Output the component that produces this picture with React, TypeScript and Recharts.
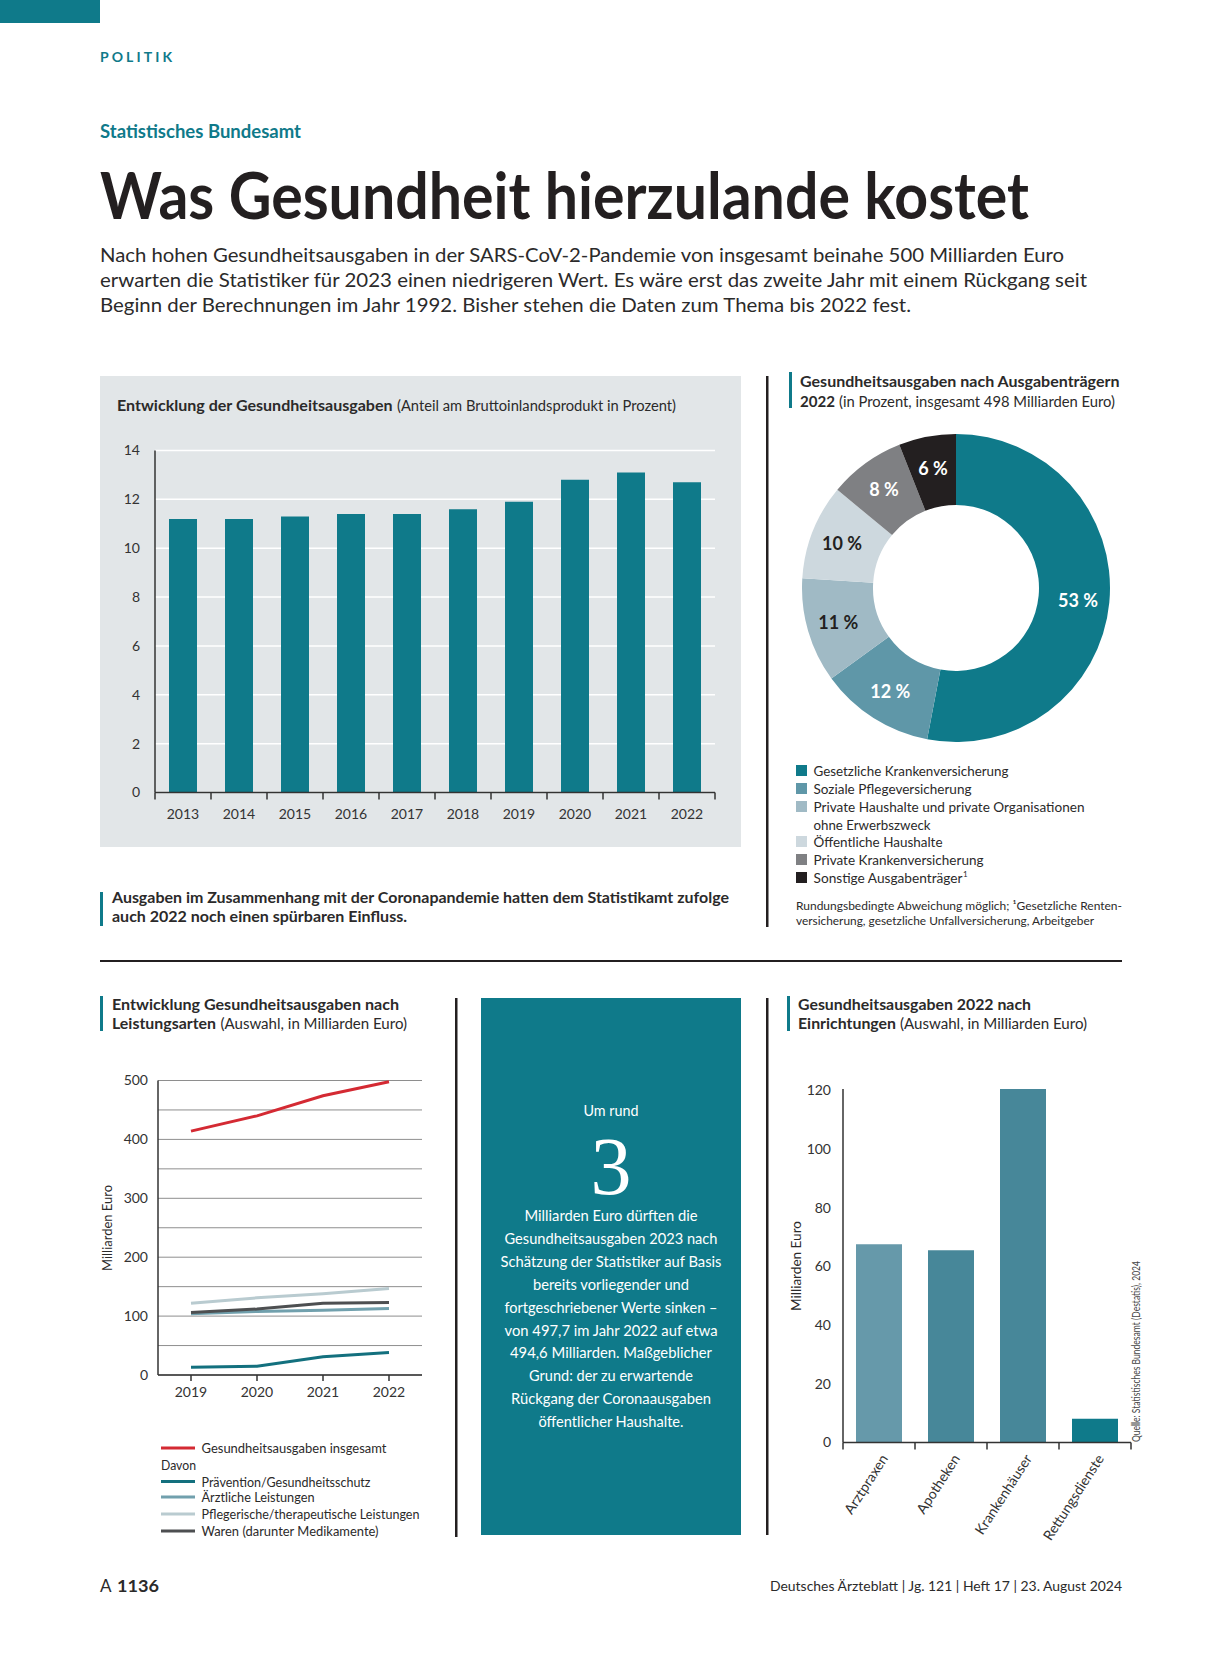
import React from 'react';
import { BarChart, Bar, XAxis, YAxis, CartesianGrid, PieChart, Pie, Cell, LineChart, Line } from 'recharts';

const FONT = 'Lato, "Open Sans", sans-serif';
const SERIF = '"Liberation Serif", "DejaVu Serif", serif';
const TEAL = '#0f7a8a';
const INK = '#231f20';
const TXT = '#2b2a2a';

// Chart 1: share of GDP
const gdpYears = ['2013', '2014', '2015', '2016', '2017', '2018', '2019', '2020', '2021', '2022'];
const gdpShare = [11.2, 11.2, 11.3, 11.4, 11.4, 11.6, 11.9, 12.8, 13.1, 12.7];
const gdpTicks = [0, 2, 4, 6, 8, 10, 12, 14];

// Chart 2: payers
const payerNames = [
  'Gesetzliche Krankenversicherung',
  'Soziale Pflegeversicherung',
  'Private Haushalte und private Organisationen ohne Erwerbszweck',
  'Öffentliche Haushalte',
  'Private Krankenversicherung',
  'Sonstige Ausgabenträger',
];
const payerShares = [53, 12, 11, 10, 8, 6];
const payerColors = ['#0f7a8a', '#5f97a8', '#a0bac5', '#cdd8de', '#7f8083', '#231f20'];
const payerLabelColors = ['#ffffff', '#ffffff', '#231f20', '#231f20', '#ffffff', '#ffffff'];

// Chart 3: by type of service
const serviceYears = ['2019', '2020', '2021', '2022'];
const totalSpend = [414, 440, 474, 498];
const preventionSpend = [13, 15, 31, 38];
const medicalSpend = [104, 108, 110, 113];
const nursingSpend = [122, 131, 138, 147];
const goodsSpend = [106, 112, 122, 123];
const serviceTicks = [0, 50, 100, 150, 200, 250, 300, 350, 400, 450, 500];

// Chart 4: by facility
const facilityNames = ['Arztpraxen', 'Apotheken', 'Krankenhäuser', 'Rettungsdienste'];
const facilitySpend = [67.5, 65.5, 120.4, 8.1];
const facilityColors = ['#6699aa', '#478799', '#478799', '#0f7a8a'];
const facilityTicks = [0, 20, 40, 60, 80, 100, 120];

const gdpData = gdpYears.map((y, i) => ({ year: y, share: gdpShare[i] }));
const payerData = payerNames.map((n, i) => ({ name: n, value: payerShares[i] }));
const serviceData = serviceYears.map((y, i) => ({
  year: y,
  total: totalSpend[i],
  prevention: preventionSpend[i],
  medical: medicalSpend[i],
  nursing: nursingSpend[i],
  goods: goodsSpend[i],
}));
const facilityData = facilityNames.map((n, i) => ({ name: n, value: facilitySpend[i] }));

const tickStyle = { fill: '#333', fontSize: 14, fontFamily: FONT };
const axisStyle = { stroke: '#333', strokeWidth: 1.5 };

function boundaryTick(p: any, opts: { n: number; half: number; rotate?: number; dy: number; dx?: number }) {
  const { x, y, payload, index } = p;
  const off = payload && typeof payload.offset === 'number' && payload.offset > 0 ? payload.offset : opts.half;
  const label = payload ? payload.value : '';
  const tx = x + (opts.dx || 0);
  const ty = y + opts.dy;
  return (
    <g>
      <line x1={x - off} x2={x - off} y1={y} y2={y + 7} stroke="#333" strokeWidth={1.5} />
      {index === opts.n - 1 ? <line x1={x + off} x2={x + off} y1={y} y2={y + 7} stroke="#333" strokeWidth={1.5} /> : null}
      {opts.rotate ? (
        <text x={tx} y={ty} textAnchor="end" dominantBaseline="central" fill="#333" fontSize={14} fontFamily={FONT}
          transform={`rotate(${opts.rotate} ${tx} ${ty})`}>{label}</text>
      ) : (
        <text x={tx} y={ty} textAnchor="middle" fill="#333" fontSize={14} fontFamily={FONT}>{label}</text>
      )}
    </g>
  );
}

const RAD = Math.PI / 180;
function renderPieLabel(p: any) {
  const { cx, cy, midAngle, innerRadius, outerRadius, index, value } = p;
  const r = (innerRadius + outerRadius) / 2 + 4;
  const x = cx + r * Math.cos(-midAngle * RAD);
  const y = cy + r * Math.sin(-midAngle * RAD);
  return (
    <text x={x} y={y} textAnchor="middle" dominantBaseline="central" fill={payerLabelColors[index]}
      fontSize={18} fontWeight={700} fontFamily={FONT}>{`${value} %`}</text>
  );
}

type TP = {
  x: number; y: number; s: number; w?: number; b?: boolean; c?: string;
  a?: 'start' | 'middle' | 'end'; rot?: number; fam?: string; adj?: 'spacing' | 'spacingAndGlyphs'; children: React.ReactNode;
};
const T = ({ x, y, s, w, b, c = TXT, a = 'start', rot, fam = FONT, adj = 'spacingAndGlyphs', children }: TP) => (
  <text x={x} y={y} fontSize={s} fontWeight={b ? 700 : 400} fill={c} textAnchor={a} fontFamily={fam}
    {...(w ? { textLength: w, lengthAdjust: adj } : {})}
    transform={rot ? `rotate(${rot} ${x} ${y})` : undefined}>{children}</text>
);

const legendRows = [
  { t: 'Gesetzliche Krankenversicherung', w: 195, sq: 0 },
  { t: 'Soziale Pflegeversicherung', w: 158, sq: 1 },
  { t: 'Private Haushalte und private Organisationen', w: 271, sq: 2 },
  { t: 'ohne Erwerbszweck', w: 117, sq: -1 },
  { t: 'Öffentliche Haushalte', w: 129, sq: 3 },
  { t: 'Private Krankenversicherung', w: 170, sq: 4 },
  { t: 'Sonstige Ausgabenträger', w: 149, sq: 5 },
];
const legendBase = [776, 794, 812, 830, 847, 865, 883];

const lineLegend = [
  { t: 'Gesundheitsausgaben insgesamt', w: 185, c: '#d42a33' },
  { t: 'Davon', w: 35, c: '' },
  { t: 'Prävention/Gesundheitsschutz', w: 169, c: '#13707e' },
  { t: 'Ärztliche Leistungen', w: 113, c: '#71a0ad' },
  { t: 'Pflegerische/therapeutische Leistungen', w: 218, c: '#b9cbd0' },
  { t: 'Waren (darunter Medikamente)', w: 177, c: '#4d4f51' },
];
const lineLegendBase = [1453, 1469.5, 1486.5, 1502, 1519, 1536];

const boxLines = [
  { t: 'Milliarden Euro dürften die', w: 173 },
  { t: 'Gesundheitsausgaben 2023 nach', w: 213 },
  { t: 'Schätzung der Statistiker auf Basis', w: 221 },
  { t: 'bereits vorliegender und', w: 156 },
  { t: 'fortgeschriebener Werte sinken –', w: 213 },
  { t: 'von 497,7 im Jahr 2022 auf etwa', w: 213 },
  { t: '494,6 Milliarden. Maßgeblicher', w: 202 },
  { t: 'Grund: der zu erwartende', w: 164 },
  { t: 'Rückgang der Coronaausgaben', w: 200 },
  { t: 'öffentlicher Haushalte.', w: 145 },
];

export default function App() {
  return (
    <div style={{ position: 'absolute', left: 0, top: 0, width: 1223, height: 1654, background: '#fff', overflow: 'hidden' }}>
      <svg style={{ position: 'absolute', left: 0, top: 0 }} width={1223} height={1654}>
        <rect x={0} y={0} width={100} height={23} fill={TEAL} />
        <rect x={100} y={376} width={641} height={471} fill="#e2e6e8" />
        <rect x={481} y={998} width={260} height={537} fill={TEAL} />
        <rect x={766} y={376} width={2.5} height={551} fill={INK} />
        <rect x={100} y={960} width={1022} height={2} fill={INK} />
        <rect x={455} y={998} width={2.5} height={539} fill={INK} />
        <rect x={766} y={998} width={2.5} height={537} fill={INK} />
        <rect x={100} y={892} width={3} height={34} fill={TEAL} />
        <rect x={789} y={372} width={3} height={36} fill={TEAL} />
        <rect x={100} y={996} width={3} height={35} fill={TEAL} />
        <rect x={787} y={996} width={3} height={35} fill={TEAL} />
      </svg>

      <div style={{ position: 'absolute', left: 100, top: 376 }}>
        <BarChart width={641} height={471} data={gdpData} margin={{ top: 74.5, right: 26, bottom: 24.5, left: 0 }} barSize={28}>
          <CartesianGrid horizontal vertical={false} stroke="#ffffff" strokeWidth={1.5} />
          <XAxis dataKey="year" tickLine={false} tickSize={0} tickMargin={0} axisLine={axisStyle} height={30} interval={0}
            tick={(p: any) => boundaryTick(p, { n: 10, half: 28, dy: 26 })} />
          <YAxis domain={[0, 14]} ticks={gdpTicks} tickLine={false} tickSize={0} tickMargin={15} width={55}
            axisLine={axisStyle} tick={tickStyle} />
          <Bar dataKey="share" fill={TEAL} isAnimationActive={false} />
        </BarChart>
      </div>

      <div style={{ position: 'absolute', left: 800, top: 432 }}>
        <PieChart width={312} height={312} margin={{ top: 0, right: 0, bottom: 0, left: 0 }}>
          <Pie data={payerData} dataKey="value" nameKey="name" cx={156} cy={156} innerRadius={83} outerRadius={154}
            startAngle={90} endAngle={-270} stroke="none" isAnimationActive={false} labelLine={false} label={renderPieLabel}>
            {payerColors.map((c, i) => <Cell key={i} fill={c} stroke="none" />)}
          </Pie>
        </PieChart>
      </div>

      <div style={{ position: 'absolute', left: 100, top: 1040 }}>
        <LineChart width={340} height={380} data={serviceData} margin={{ top: 40.5, right: 18, bottom: 15, left: 0 }}>
          <CartesianGrid horizontal vertical={false} stroke="#8e8e8e" strokeWidth={1} />
          <XAxis dataKey="year" padding={{ left: 33, right: 33 }} tickLine={{ stroke: '#333', strokeWidth: 1.5 }} tickSize={6}
            tickMargin={6} axisLine={axisStyle} height={30} interval={0} tick={tickStyle} />
          <YAxis domain={[0, 500]} ticks={serviceTicks} tickFormatter={(v: number) => (v % 100 === 0 ? String(v) : '')}
            tickLine={false} tickSize={0} tickMargin={10} width={58} axisLine={axisStyle} tick={tickStyle} />
          <Line dataKey="nursing" stroke="#b9cbd0" strokeWidth={3} dot={false} isAnimationActive={false} />
          <Line dataKey="medical" stroke="#71a0ad" strokeWidth={3} dot={false} isAnimationActive={false} />
          <Line dataKey="goods" stroke="#4d4f51" strokeWidth={3} dot={false} isAnimationActive={false} />
          <Line dataKey="prevention" stroke="#13707e" strokeWidth={3} dot={false} isAnimationActive={false} />
          <Line dataKey="total" stroke="#d42a33" strokeWidth={3} dot={false} isAnimationActive={false} />
        </LineChart>
      </div>

      <div style={{ position: 'absolute', left: 780, top: 1050 }}>
        <BarChart width={380} height={500} data={facilityData} margin={{ top: 39, right: 29, bottom: 27.5, left: 0 }} barSize={46}>
          <XAxis dataKey="name" tickLine={false} tickSize={0} tickMargin={0} axisLine={axisStyle} height={80} interval={0}
            tick={(p: any) => boundaryTick(p, { n: 4, half: 36, dy: 13, dx: 5, rotate: -57 })} />
          <YAxis domain={[0, 120]} ticks={facilityTicks} tickLine={false} tickSize={0} tickMargin={12} width={63}
            axisLine={axisStyle} tick={tickStyle} />
          <Bar dataKey="value" isAnimationActive={false}>
            {facilityColors.map((c, i) => <Cell key={i} fill={c} />)}
          </Bar>
        </BarChart>
      </div>

      <svg style={{ position: 'absolute', left: 0, top: 0, pointerEvents: 'none' }} width={1223} height={1654}>
        <T x={100} y={62} s={14} b c={TEAL} w={72} adj="spacing">POLITIK</T>
        <T x={100} y={138} s={19} b c={TEAL} w={201}>Statistisches Bundesamt</T>
        <T x={100} y={218.5} s={65} b c={INK} w={929}>Was Gesundheit hierzulande kostet</T>
        <T x={100} y={262} s={20} w={964}>Nach hohen Gesundheitsausgaben in der SARS-CoV-2-Pandemie von insgesamt beinahe 500 Milliarden Euro</T>
        <T x={100} y={287} s={20} w={987}>erwarten die Statistiker für 2023 einen niedrigeren Wert. Es wäre erst das zweite Jahr mit einem Rückgang seit</T>
        <T x={100} y={312} s={20} w={811}>Beginn der Berechnungen im Jahr 1992. Bisher stehen die Daten zum Thema bis 2022 fest.</T>

        <T x={117} y={410.5} s={15.5} b w={275.5}>Entwicklung der Gesundheitsausgaben</T>
        <T x={397} y={410.5} s={15.5} w={279}>(Anteil am Bruttoinlandsprodukt in Prozent)</T>

        <T x={112} y={903} s={16} b w={617}>Ausgaben im Zusammenhang mit der Coronapandemie hatten dem Statistikamt zufolge</T>
        <T x={112} y={922} s={16} b w={295}>auch 2022 noch einen spürbaren Einfluss.</T>

        <T x={800} y={387} s={15.5} b w={319.5}>Gesundheitsausgaben nach Ausgabenträgern</T>
        <T x={800} y={407} s={15.5} b w={35}>2022</T>
        <T x={839} y={407} s={15.5} w={276}>(in Prozent, insgesamt 498 Milliarden Euro)</T>

        {legendRows.map((r, i) => (
          <g key={i}>
            {r.sq >= 0 ? <rect x={796} y={legendBase[i] - 11} width={11} height={11} fill={payerColors[r.sq]} /> : null}
            <T x={813.5} y={legendBase[i]} s={14} w={r.w}>{r.t}</T>
          </g>
        ))}
        <T x={963} y={877} s={8}>1</T>
        <T x={796} y={909.5} s={12} w={326}>Rundungsbedingte Abweichung möglich; ¹Gesetzliche Renten-</T>
        <T x={796} y={925} s={12} w={298}>versicherung, gesetzliche Unfallversicherung, Arbeitgeber</T>

        <T x={112} y={1010} s={15.5} b w={287}>Entwicklung Gesundheitsausgaben nach</T>
        <T x={112} y={1029} s={15.5} b w={104}>Leistungsarten</T>
        <T x={220.5} y={1029} s={15.5} w={186.5}>(Auswahl, in Milliarden Euro)</T>
        <T x={112} y={1228} s={14} a="middle" rot={-90} w={86}>Milliarden Euro</T>

        {lineLegend.map((r, i) => (
          <g key={i}>
            {r.c ? <line x1={161} x2={195} y1={lineLegendBase[i] - 5} y2={lineLegendBase[i] - 5} stroke={r.c} strokeWidth={3} /> : null}
            <T x={r.c ? 201.5 : 161} y={lineLegendBase[i]} s={13.5} w={r.w}>{r.t}</T>
          </g>
        ))}

        <T x={611} y={1116} s={16} a="middle" c="#ffffff" w={55}>Um rund</T>
        <T x={611} y={1193.5} s={82} a="middle" c="#ffffff" fam={SERIF}>3</T>
        {boxLines.map((l, i) => (
          <T key={i} x={611} y={1221 + i * 22.9} s={16} a="middle" c="#ffffff" w={l.w}>{l.t}</T>
        ))}

        <T x={798} y={1010} s={15.5} b w={233}>Gesundheitsausgaben 2022 nach</T>
        <T x={798} y={1029} s={15.5} b w={98}>Einrichtungen</T>
        <T x={900} y={1029} s={15.5} w={187}>(Auswahl, in Milliarden Euro)</T>
        <T x={800.5} y={1266} s={14} a="middle" rot={-90} w={90}>Milliarden Euro</T>
        <T x={1140} y={1442} s={10.5} rot={-90} w={181} c="#444">Quelle: Statistisches Bundesamt (Destatis), 2024</T>

        <T x={100} y={1592} s={17}>A</T>
        <T x={117} y={1592} s={17} b w={42}>1136</T>
        <T x={1122} y={1591} s={14} a="end" w={352}>Deutsches Ärzteblatt | Jg. 121 | Heft 17 | 23. August 2024</T>
      </svg>
    </div>
  );
}
